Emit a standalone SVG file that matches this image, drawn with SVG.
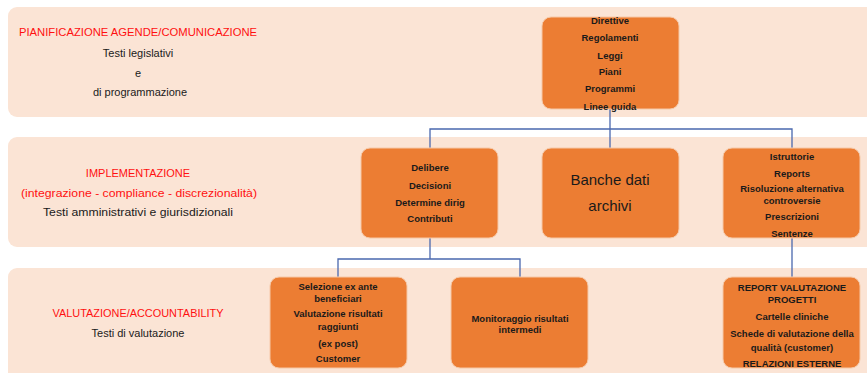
<svg xmlns="http://www.w3.org/2000/svg" width="867" height="373" viewBox="0 0 867 373">
<style>
.band{fill:#FBE4D5;}
.box{fill:#EC7D33;stroke:#F6C9A8;stroke-width:1;}
.t{font-family:"Liberation Sans",Arial,sans-serif;font-weight:bold;font-size:9.5px;fill:#1a1a1a;text-anchor:middle;}
.lab{font-family:"Liberation Sans",Arial,sans-serif;font-size:11px;fill:#1a1a1a;text-anchor:middle;}
.red{fill:#FF1010;}
.big{font-family:"Liberation Sans",Arial,sans-serif;font-size:15px;fill:#1a1a1a;text-anchor:middle;}
.c{fill:none;stroke:#4A68AE;stroke-width:1.3;}
</style>
<rect width="867" height="373" fill="#ffffff"/>
<g id="bands">
<rect class="band" x="8" y="7" width="870" height="110" rx="9"/>
<rect class="band" x="8" y="137" width="870" height="110" rx="9"/>
<rect class="band" x="8" y="268" width="870" height="120" rx="9"/>
</g>
<g id="labels">
<text class="lab red" x="138" y="36" textLength="238" lengthAdjust="spacingAndGlyphs">PIANIFICAZIONE AGENDE/COMUNICAZIONE</text>
<text class="lab" x="138" y="57">Testi legislativi</text>
<text class="lab" x="138" y="77">e</text>
<text class="lab" x="140" y="96">di programmazione</text>
<text class="lab red" x="138" y="177">IMPLEMENTAZIONE</text>
<text class="lab red" x="139" y="197" textLength="236" lengthAdjust="spacingAndGlyphs">(integrazione - compliance - discrezionalità)</text>
<text class="lab" x="138" y="216" textLength="190" lengthAdjust="spacingAndGlyphs">Testi amministrativi e giurisdizionali</text>
<text class="lab red" x="138" y="317" textLength="171" lengthAdjust="spacingAndGlyphs">VALUTAZIONE/ACCOUNTABILITY</text>
<text class="lab" x="138" y="337">Testi di valutazione</text>
</g>
<g id="connectors">
<path class="c" d="M610 109V129M430 148V129H792V148M610 129V148"/>
<path class="c" d="M430 238V259M338 277V259H520V277"/>
<path class="c" d="M792 238V277"/>
</g>
<g id="n-top">
<rect class="box" x="542" y="17" width="137" height="92" rx="9"/>
<text class="t" x="610" y="24">Direttive</text>
<text class="t" x="610" y="41">Regolamenti</text>
<text class="t" x="610" y="59">Leggi</text>
<text class="t" x="610" y="75">Piani</text>
<text class="t" x="610" y="92">Programmi</text>
<text class="t" x="610" y="110">Linee guida</text>
</g>
<g id="n-delibere">
<rect class="box" x="361" y="148" width="137" height="90" rx="9"/>
<text class="t" x="430" y="171">Delibere</text>
<text class="t" x="430" y="189">Decisioni</text>
<text class="t" x="430" y="206">Determine dirig</text>
<text class="t" x="430" y="222">Contributi</text>
</g>
<g id="n-banche">
<rect class="box" x="542" y="148" width="137" height="90" rx="9"/>
<text class="big" x="610" y="185">Banche dati</text>
<text class="big" x="610" y="211">archivi</text>
</g>
<g id="n-istruttorie">
<rect class="box" x="723" y="148" width="137" height="90" rx="9"/>
<text class="t" x="792" y="160">Istruttorie</text>
<text class="t" x="792" y="177">Reports</text>
<text class="t" x="792" y="192">Risoluzione alternativa</text>
<text class="t" x="792" y="204">controversie</text>
<text class="t" x="792" y="220">Prescrizioni</text>
<text class="t" x="792" y="237">Sentenze</text>
</g>
<g id="n-selezione">
<rect class="box" x="270" y="277" width="137" height="91" rx="9"/>
<text class="t" x="338" y="290">Selezione ex ante</text>
<text class="t" x="338" y="302">beneficiari</text>
<text class="t" x="338" y="317">Valutazione risultati</text>
<text class="t" x="338" y="330">raggiunti</text>
<text class="t" x="338" y="347">(ex post)</text>
<text class="t" x="338" y="362">Customer</text>
</g>
<g id="n-monitoraggio">
<rect class="box" x="451" y="277" width="137" height="91" rx="9"/>
<text class="t" x="520" y="322">Monitoraggio risultati</text>
<text class="t" x="520" y="333">intermedi</text>
</g>
<g id="n-report">
<rect class="box" x="723" y="277" width="137" height="91" rx="9"/>
<text class="t" x="792" y="291">REPORT VALUTAZIONE</text>
<text class="t" x="792" y="303">PROGETTI</text>
<text class="t" x="792" y="320">Cartelle cliniche</text>
<text class="t" x="792" y="337">Schede di valutazione della</text>
<text class="t" x="792" y="351">qualità (customer)</text>
<text class="t" x="792" y="367">RELAZIONI ESTERNE</text>
</g>
</svg>
